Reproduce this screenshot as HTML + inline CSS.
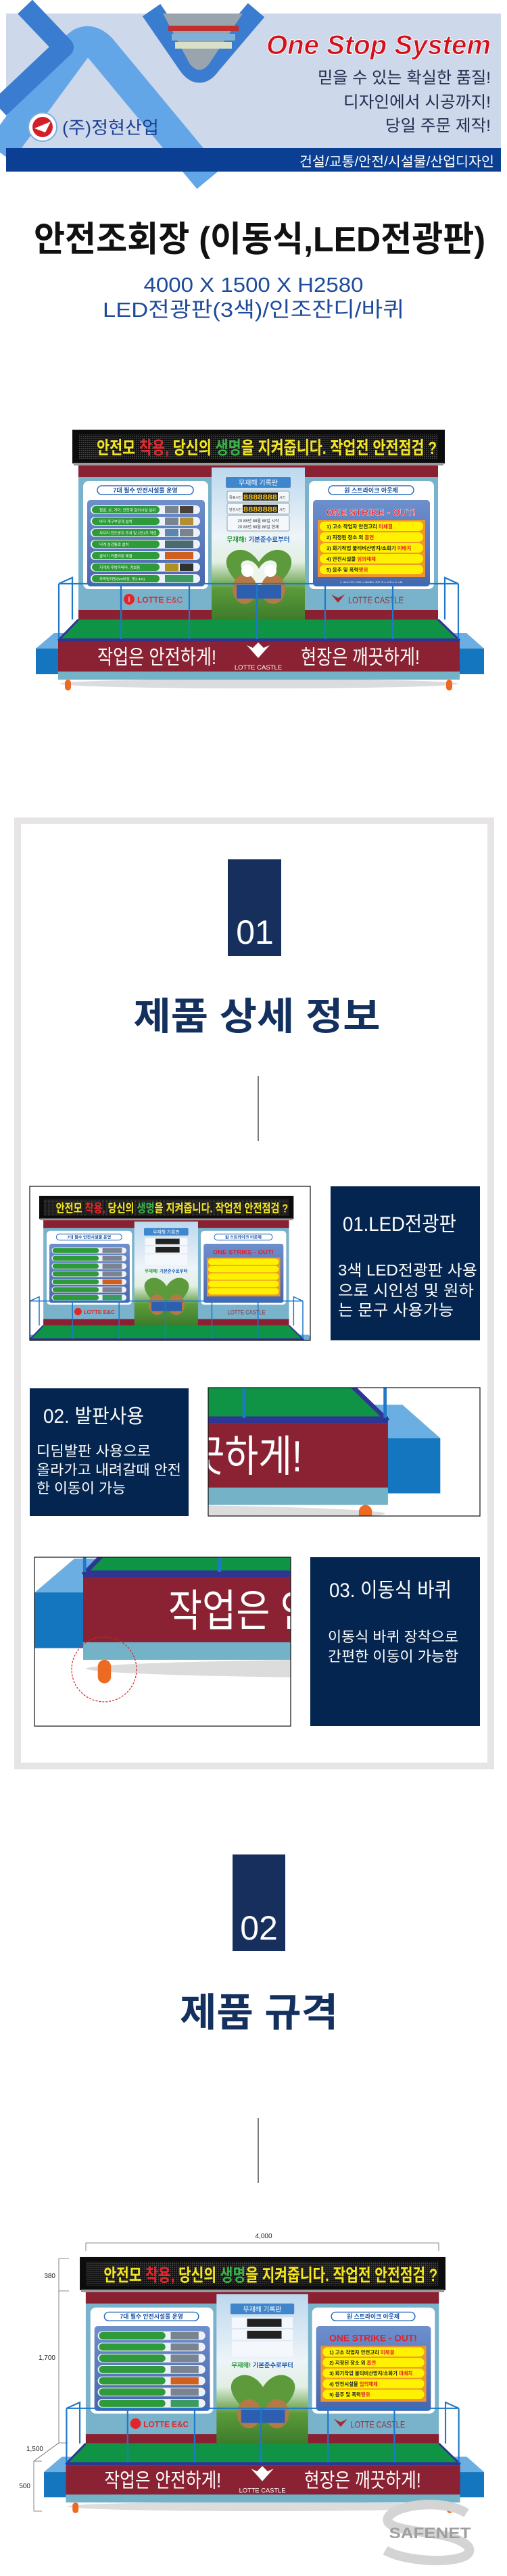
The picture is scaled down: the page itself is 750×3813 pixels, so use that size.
<!DOCTYPE html>
<html><head><meta charset="utf-8"><style>
html,body{margin:0;padding:0;background:#fff;width:750px;height:3813px;overflow:hidden}
svg{display:block}
text{font-family:"Liberation Sans","Noto Sans CJK KR",sans-serif}
</style></head><body>
<svg width="750" height="3813" viewBox="0 0 750 3813" xmlns="http://www.w3.org/2000/svg">
<defs>
<linearGradient id="cg" x1="0" y1="0" x2="0" y2="1"><stop offset="0" stop-color="#bcd8ee"/><stop offset=".45" stop-color="#eef4f8"/><stop offset=".62" stop-color="#e2efe2"/><stop offset=".8" stop-color="#5a9a3a"/><stop offset="1" stop-color="#3e7c2c"/></linearGradient>
<pattern id="dots" width="3" height="3" patternUnits="userSpaceOnUse"><rect width="3" height="3" fill="#111"/><rect width="1.6" height="1.6" fill="#4a4a4a"/></pattern>
<linearGradient id="bl" x1="0" y1="0" x2="0" y2="1"><stop offset="0" stop-color="#6d8fcc"/><stop offset="1" stop-color="#4766ac"/></linearGradient>
</defs>

<!-- HEADER -->
<g transform="translate(9,20)">
<rect width="732" height="234" fill="#cdd8ea"/>
<path d="M-10,205 L100,55 Q118,30 140,52 L300,245" stroke="#63a6e7" stroke-width="46" fill="none" stroke-linejoin="round"/>
<path d="M28,-10 L85,50 L-10,140" stroke="#3a7ccf" stroke-width="30" fill="none" stroke-linejoin="round"/>
<path d="M215,-5 L270,75 Q286,98 302,75 L370,-5" stroke="#3a7ccf" stroke-width="32" fill="none" stroke-linejoin="round"/>
<path d="M232,0 L350,0 L300,75 Q286,92 272,75 Z" fill="#9aa4ae"/>
<rect x="240" y="18" width="104" height="8" fill="#c03030"/>
<rect x="245" y="30" width="94" height="10" fill="#7fb0d8"/>
<rect x="250" y="42" width="84" height="10" fill="#d8e0c8"/>
<circle cx="54" cy="168" r="21" fill="#fff" stroke="#7aaee0" stroke-width="2"/>
<circle cx="54" cy="168" r="15" fill="#d21f2a"/>
<path d="M42,170 L66,160 L58,176 Z" fill="#fff"/>
<text x="83" y="178" font-size="26" fill="#1b3f94" textLength="143" lengthAdjust="spacingAndGlyphs">(주)정현산업</text>
<text x="717" y="60" font-size="40" font-weight="bold" font-style="italic" fill="#d4101a" stroke="#fff" stroke-width="1" text-anchor="end" textLength="332" lengthAdjust="spacingAndGlyphs">One Stop System</text>
<text x="717" y="103" font-size="24" fill="#222c4e" text-anchor="end" textLength="256" lengthAdjust="spacingAndGlyphs">믿을 수 있는 확실한 품질!</text>
<text x="717" y="139" font-size="24" fill="#222c4e" text-anchor="end" textLength="218" lengthAdjust="spacingAndGlyphs">디자인에서 시공까지!</text>
<text x="717" y="174" font-size="24" fill="#222c4e" text-anchor="end" textLength="156" lengthAdjust="spacingAndGlyphs">당일 주문 제작!</text>
<rect x="0" y="199" width="732" height="35" fill="#0a3f94"/>
<text x="722" y="226" font-size="20" fill="#fff" text-anchor="end" textLength="288" lengthAdjust="spacingAndGlyphs">건설/교통/안전/시설물/산업디자인</text>
</g>

<text x="384" y="372" font-size="52" font-weight="bold" fill="#111" text-anchor="middle" textLength="668" lengthAdjust="spacingAndGlyphs">안전조회장 (이동식,LED전광판)</text>
<text x="375" y="432" font-size="31" fill="#1d4b9c" text-anchor="middle" textLength="325" lengthAdjust="spacingAndGlyphs">4000 X 1500 X H2580</text>
<text x="375" y="469" font-size="31" fill="#1d4b9c" text-anchor="middle" textLength="446" lengthAdjust="spacingAndGlyphs">LED전광판(3색)/인조잔디/바퀴</text>

<!-- STAGE 1 -->
<svg x="0" y="560" width="750" height="560" viewBox="0 560 750 560">
<ellipse cx="383" cy="1012" rx="295" ry="7" fill="#dcdcdc"/>
<polygon points="80,937 690,937 716,960 53,960" fill="#6aaee2"/>
<rect x="53" y="960" width="663" height="38" fill="#1576c0"/>
<rect x="116" y="688" width="532" height="229" fill="#78b3cb"/>
<rect x="116" y="688" width="532" height="18" fill="#8a2133"/>
<rect x="116" y="903" width="532" height="14" fill="#8a2133"/>
<rect x="123" y="712" width="185" height="160" rx="8" fill="#fff"/>
<rect x="144" y="719" width="142" height="13" rx="6.5" fill="#fff" stroke="#2a6fc0" stroke-width="1.5"/>
<text x="215" y="729" font-size="9" font-weight="bold" text-anchor="middle" fill="#1b4fa0">7대 필수 안전시설물 운영</text>
<rect x="129" y="740" width="174" height="128" rx="5" fill="url(#bl)"/>
<g fill="#eef2f8"><rect x="134" y="748" width="162" height="13" rx="6.5"/><rect x="134" y="765" width="162" height="13" rx="6.5"/><rect x="134" y="782" width="162" height="13" rx="6.5"/><rect x="134" y="799" width="162" height="13" rx="6.5"/><rect x="134" y="816" width="162" height="13" rx="6.5"/><rect x="134" y="833" width="162" height="13" rx="6.5"/><rect x="134" y="850" width="162" height="13" rx="6.5"/></g>
<g fill="#2f9a3a"><rect x="136" y="749" width="100" height="11" rx="5.5"/><rect x="136" y="766" width="100" height="11" rx="5.5"/><rect x="136" y="783" width="100" height="11" rx="5.5"/><rect x="136" y="800" width="100" height="11" rx="5.5"/><rect x="136" y="817" width="100" height="11" rx="5.5"/><rect x="136" y="834" width="100" height="11" rx="5.5"/><rect x="136" y="851" width="100" height="11" rx="5.5"/></g>
<g fill="#7a8490"><rect x="244" y="749" width="20" height="11"/><rect x="266" y="749" width="20" height="11" fill="#4a4238"/><rect x="244" y="766" width="20" height="11"/><rect x="266" y="766" width="20" height="11" fill="#b09030"/><rect x="244" y="783" width="20" height="11" fill="#5a86b0"/><rect x="266" y="783" width="20" height="11"/><rect x="244" y="800" width="42" height="11" fill="#4a6a70"/><rect x="244" y="817" width="42" height="11" fill="#d06020"/><rect x="244" y="834" width="20" height="11" fill="#b09020"/><rect x="266" y="834" width="20" height="11" fill="#303030"/><rect x="244" y="851" width="42" height="11" fill="#3a9a60"/></g>
<g font-size="5.5" fill="#fff"><text x="147" y="757">철골, 보, 거더, 안전대 걸이시설 설치</text><text x="147" y="774">바닥 개구부덮개 설치</text><text x="147" y="791">사다리 전도방지 조치 및 2인1조 작업</text><text x="147" y="808">비계 승강통로 설치</text><text x="147" y="825">굴삭기 커플러핀 체결</text><text x="147" y="842">지게차 후방카메라, 경보음</text><text x="147" y="859">추락방지망(5m이상, 망2.4m)</text></g>
<rect x="313" y="692" width="138" height="225" fill="url(#cg)"/>
<path d="M383,885 C335,858 322,825 348,815 C364,810 377,822 383,832 C389,822 402,810 418,815 C444,825 431,858 383,885Z" fill="#5c9a3c"/>
<path d="M383,870 C358,852 350,834 362,830 C372,827 380,836 383,842 C386,836 394,827 404,830 C416,834 408,852 383,870Z" fill="#eef4f0"/>
<ellipse cx="362" cy="872" rx="18" ry="22" fill="#b47a45"/><ellipse cx="404" cy="872" rx="18" ry="22" fill="#b47a45"/>
<rect x="350" y="866" width="66" height="20" fill="#2d5fb0"/>
<circle cx="366" cy="845" r="9" fill="#fff"/><circle cx="400" cy="845" r="9" fill="#fff"/>
<rect x="334" y="706" width="96" height="16" rx="2" fill="#3f86cc"/>
<text x="382" y="718" font-size="10" fill="#fff" text-anchor="middle">무재해 기록판</text>
<rect x="336" y="727" width="92" height="16" rx="2" fill="#f4f7fb" stroke="#8aa"/><rect x="359" y="729" width="52" height="12" fill="#222"/>
<text x="385" y="739.5" font-size="11" fill="#f2c21b" text-anchor="middle" font-weight="bold" textLength="50" lengthAdjust="spacingAndGlyphs">8888888</text>
<text x="339" y="738" font-size="5" fill="#333">목표시간</text><text x="413" y="738" font-size="5" fill="#333">시간</text>
<rect x="336" y="745" width="92" height="16" rx="2" fill="#f4f7fb" stroke="#8aa"/><rect x="359" y="747" width="52" height="12" fill="#222"/>
<text x="385" y="757.5" font-size="11" fill="#f2c21b" text-anchor="middle" font-weight="bold" textLength="50" lengthAdjust="spacingAndGlyphs">8888888</text>
<text x="339" y="756" font-size="5" fill="#333">달성시간</text><text x="413" y="756" font-size="5" fill="#333">시간</text>
<rect x="336" y="763" width="92" height="23" rx="2" fill="#f4f7fb" stroke="#8aa"/>
<text x="382" y="773" font-size="6" text-anchor="middle" fill="#333">20 88년 88월 88일 시작</text><text x="382" y="782" font-size="6" text-anchor="middle" fill="#333">20 88년 88월 88일 현재</text>
<text x="382" y="802" font-size="9.5" font-weight="bold" text-anchor="middle" fill="#1f5fb5"><tspan fill="#2a9a3a">무재해!</tspan> 기본준수로부터</text>
<rect x="457" y="712" width="185" height="160" rx="8" fill="#fff"/>
<rect x="486" y="719" width="126" height="13" rx="6.5" fill="#fff" stroke="#2a6fc0" stroke-width="1.5"/>
<text x="549" y="729" font-size="9" font-weight="bold" text-anchor="middle" fill="#1b4fa0">원 스트라이크 아웃제</text>
<rect x="463" y="740" width="173" height="128" rx="5" fill="url(#bl)"/>
<text x="549" y="763" font-family="Liberation Serif" font-size="14" font-weight="bold" fill="#e3202a" text-anchor="middle" stroke="#fff" stroke-width=".4">ONE STRIKE - OUT!</text>
<rect x="470" y="770" width="159" height="84" fill="#f0962a"/>
<g fill="#fff200"><rect x="473" y="772" width="153" height="14" rx="7"/><rect x="473" y="788" width="153" height="14" rx="7"/><rect x="473" y="804" width="153" height="14" rx="7"/><rect x="473" y="820" width="153" height="14" rx="7"/><rect x="473" y="836" width="153" height="14" rx="7"/></g>
<g font-size="7.5" font-weight="bold" fill="#222"><text x="483" y="782">1) 고소 작업자 안전고리 <tspan fill="#e3202a">미체결</tspan></text><text x="483" y="798">2) 지정된 장소 외 <tspan fill="#e3202a">흡연</tspan></text><text x="483" y="814">3) 화기작업 불티비산방지/소화기 <tspan fill="#e3202a">미배치</tspan></text><text x="483" y="830">4) 안전시설물 <tspan fill="#e3202a">임의해체</tspan></text><text x="483" y="846">5) 음주 및 폭력<tspan fill="#e3202a">행위</tspan></text></g>
<text x="549" y="864" font-size="4" fill="#fff" text-anchor="middle">※ 위반근로자 적발시 위반횟수 불문 즉시 퇴출조치 시행</text>
<circle cx="191" cy="887" r="8" fill="#e0262b"/><text x="191" y="891" font-size="11" fill="#fff" text-anchor="middle">l</text>
<text x="203" y="892" font-size="12" font-weight="bold" fill="#e0262b">LOTTE <tspan font-weight="normal">E&amp;C</tspan></text>
<path d="M490,880 L500,892 L510,880 L500,885Z" fill="#a2282f"/>
<text x="515" y="893" font-size="14" fill="#8a3040" textLength="82" lengthAdjust="spacingAndGlyphs">LOTTE CASTLE</text>
<rect x="107" y="636" width="551" height="50" fill="#0c0c0c"/>
<rect x="109" y="685" width="547" height="4" fill="#9a9a9a"/>
<rect x="117" y="643" width="531" height="36" fill="url(#dots)"/>
<text x="143" y="672" font-size="26" font-weight="bold" fill="#f5e61e" textLength="503" lengthAdjust="spacingAndGlyphs">안전모 <tspan fill="#e8262b">착용,</tspan> 당신의 <tspan fill="#38b34a">생명</tspan>을 지켜줍니다. 작업전 안전점검 ?</text>
<polygon points="116,917 648,917 680,948 86,948" fill="#0f9446"/>
<path d="M86,948 L116,917 M680,948 L648,917" stroke="#2e3592" stroke-width="3"/>
<rect x="86" y="945" width="594" height="5" fill="#2e3592"/>
<path d="M87,864 H678 M87,864 V946 M179,864 V946 M280,864 V946 M380,864 V946 M481,864 V946 M581,864 V946 M678,864 V946 M87,864 L107,855 V917 M678,864 L658,855 V917" stroke="#1f78c8" stroke-width="2.2" fill="none"/>
<rect x="86" y="950" width="594" height="44" fill="#8a2233"/>
<text x="232" y="983" font-size="30" fill="#fff" text-anchor="middle" textLength="176" lengthAdjust="spacingAndGlyphs">작업은 안전하게!</text>
<text x="533" y="983" font-size="30" fill="#fff" text-anchor="middle" textLength="176" lengthAdjust="spacingAndGlyphs">현장은 깨끗하게!</text>
<path d="M382,974 L365,955 L374,959 L382,951 L390,959 L399,955 Z" fill="#fff"/>
<text x="382" y="991" font-size="9.5" fill="#fff" text-anchor="middle">LOTTE CASTLE</text>
<rect x="86" y="994" width="594" height="12" fill="#74b2c8"/>
<rect x="96" y="1006" width="9" height="16" rx="4.5" fill="#ec6a22"/><rect x="660" y="1006" width="9" height="16" rx="4.5" fill="#ec6a22"/>
</svg>

<!-- SECTION 01 FRAME -->
<rect x="26" y="1215" width="700" height="1399" fill="none" stroke="#e6e4e5" stroke-width="10"/>
<rect x="337" y="1272" width="79" height="143" fill="#172f5c"/>
<text x="377" y="1397" font-size="50" fill="#fff" text-anchor="middle">01</text>
<text x="380" y="1524" font-size="56" font-weight="bold" fill="#13305e" text-anchor="middle" textLength="365" lengthAdjust="spacingAndGlyphs">제품 상세 정보</text>
<line x1="382" y1="1593" x2="382" y2="1689" stroke="#222" stroke-width="1.2"/>

<!-- crop 1 -->
<svg x="44" y="1756" width="415" height="228" viewBox="86.5 615.5 607.6 333.8" preserveAspectRatio="none">
<polygon points="80,937 690,937 716,960 53,960" fill="#6aaee2"/>
<rect x="116" y="688" width="532" height="229" fill="#78b3cb"/>
<rect x="116" y="688" width="532" height="18" fill="#8a2133"/>
<rect x="116" y="903" width="532" height="14" fill="#8a2133"/>
<rect x="123" y="712" width="185" height="160" rx="8" fill="#fff"/>
<rect x="144" y="719" width="142" height="13" rx="6.5" fill="#fff" stroke="#2a6fc0" stroke-width="1.5"/>
<text x="215" y="729" font-size="9" font-weight="bold" text-anchor="middle" fill="#1b4fa0">7대 필수 안전시설물 운영</text>
<rect x="129" y="740" width="174" height="128" rx="5" fill="url(#bl)"/>
<g fill="#eef2f8"><rect x="134" y="748" width="162" height="13" rx="6.5"/><rect x="134" y="765" width="162" height="13" rx="6.5"/><rect x="134" y="782" width="162" height="13" rx="6.5"/><rect x="134" y="799" width="162" height="13" rx="6.5"/><rect x="134" y="816" width="162" height="13" rx="6.5"/><rect x="134" y="833" width="162" height="13" rx="6.5"/><rect x="134" y="850" width="162" height="13" rx="6.5"/></g>
<g fill="#2f9a3a"><rect x="136" y="749" width="100" height="11" rx="5.5"/><rect x="136" y="766" width="100" height="11" rx="5.5"/><rect x="136" y="783" width="100" height="11" rx="5.5"/><rect x="136" y="800" width="100" height="11" rx="5.5"/><rect x="136" y="817" width="100" height="11" rx="5.5"/><rect x="136" y="834" width="100" height="11" rx="5.5"/><rect x="136" y="851" width="100" height="11" rx="5.5"/></g>
<g fill="#7a8490"><rect x="244" y="749" width="42" height="11"/><rect x="244" y="766" width="42" height="11"/><rect x="244" y="783" width="42" height="11"/><rect x="244" y="800" width="42" height="11"/><rect x="244" y="817" width="42" height="11" fill="#d06020"/><rect x="244" y="834" width="42" height="11"/><rect x="244" y="851" width="42" height="11" fill="#3a9a60"/></g>
<rect x="313" y="692" width="138" height="225" fill="url(#cg)"/>
<path d="M383,885 C335,858 322,825 348,815 C364,810 377,822 383,832 C389,822 402,810 418,815 C444,825 431,858 383,885Z" fill="#5c9a3c"/>
<ellipse cx="362" cy="872" rx="18" ry="22" fill="#b47a45"/><ellipse cx="404" cy="872" rx="18" ry="22" fill="#b47a45"/>
<rect x="350" y="866" width="66" height="20" fill="#2d5fb0"/>
<rect x="334" y="706" width="96" height="16" rx="2" fill="#3f86cc"/>
<text x="382" y="718" font-size="10" fill="#fff" text-anchor="middle">무재해 기록판</text>
<rect x="336" y="727" width="92" height="16" fill="#f4f7fb"/><rect x="359" y="729" width="52" height="12" fill="#222"/>
<rect x="336" y="745" width="92" height="16" fill="#f4f7fb"/><rect x="359" y="747" width="52" height="12" fill="#222"/>
<rect x="336" y="763" width="92" height="23" fill="#f4f7fb"/>
<text x="382" y="802" font-size="9.5" font-weight="bold" text-anchor="middle" fill="#1f5fb5"><tspan fill="#2a9a3a">무재해!</tspan> 기본준수로부터</text>
<rect x="457" y="712" width="185" height="160" rx="8" fill="#fff"/>
<rect x="486" y="719" width="126" height="13" rx="6.5" fill="#fff" stroke="#2a6fc0" stroke-width="1.5"/>
<text x="549" y="729" font-size="9" font-weight="bold" text-anchor="middle" fill="#1b4fa0">원 스트라이크 아웃제</text>
<rect x="463" y="740" width="173" height="128" rx="5" fill="url(#bl)"/>
<text x="549" y="763" font-family="Liberation Serif" font-size="14" font-weight="bold" fill="#e3202a" text-anchor="middle">ONE STRIKE - OUT!</text>
<rect x="470" y="770" width="159" height="84" fill="#f0962a"/>
<g fill="#fff200"><rect x="473" y="772" width="153" height="14" rx="7"/><rect x="473" y="788" width="153" height="14" rx="7"/><rect x="473" y="804" width="153" height="14" rx="7"/><rect x="473" y="820" width="153" height="14" rx="7"/><rect x="473" y="836" width="153" height="14" rx="7"/></g>
<circle cx="191" cy="887" r="8" fill="#e0262b"/>
<text x="203" y="892" font-size="12" font-weight="bold" fill="#e0262b">LOTTE E&amp;C</text>
<text x="515" y="893" font-size="14" fill="#8a3040" textLength="82" lengthAdjust="spacingAndGlyphs">LOTTE CASTLE</text>
<rect x="107" y="636" width="551" height="50" fill="#0c0c0c"/>
<rect x="109" y="685" width="547" height="4" fill="#9a9a9a"/>
<rect x="117" y="643" width="531" height="36" fill="url(#dots)"/>
<text x="143" y="672" font-size="26" font-weight="bold" fill="#f5e61e" textLength="503" lengthAdjust="spacingAndGlyphs">안전모 <tspan fill="#e8262b">착용,</tspan> 당신의 <tspan fill="#38b34a">생명</tspan>을 지켜줍니다. 작업전 안전점검 ?</text>
<polygon points="116,917 648,917 680,948 86,948" fill="#0f9446"/>
<path d="M86,948 L116,917 M680,948 L648,917" stroke="#2e3592" stroke-width="3"/>
<rect x="86" y="945" width="594" height="5" fill="#2e3592"/>
<path d="M87,864 H678 M87,864 V946 M179,864 V946 M280,864 V946 M380,864 V946 M481,864 V946 M581,864 V946 M678,864 V946 M87,864 L107,855 V917 M678,864 L658,855 V917" stroke="#1f78c8" stroke-width="2.2" fill="none"/>
</svg>
<rect x="44" y="1756" width="415" height="228" fill="none" stroke="#111" stroke-width="1.2"/>
<rect x="489" y="1756" width="221" height="228" fill="#03254f"/>
<text x="507" y="1822" font-size="30" fill="#fff" textLength="168" lengthAdjust="spacingAndGlyphs">01.LED전광판</text>
<text x="500" y="1888" font-size="23" fill="#fff" textLength="206" lengthAdjust="spacingAndGlyphs">3색 LED전광판 사용</text>
<text x="500" y="1918" font-size="23" fill="#fff" textLength="201" lengthAdjust="spacingAndGlyphs">으로 시인성 및 원하</text>
<text x="500" y="1947" font-size="23" fill="#fff" textLength="171" lengthAdjust="spacingAndGlyphs">는 문구 사용가능</text>

<rect x="44" y="2055" width="235" height="189" fill="#03254f"/>
<text x="64" y="2106" font-size="29" fill="#fff" textLength="149" lengthAdjust="spacingAndGlyphs">02. 발판사용</text>
<text x="54" y="2155" font-size="21" fill="#fff" textLength="169" lengthAdjust="spacingAndGlyphs">디딤발판 사용으로</text>
<text x="54" y="2183" font-size="21" fill="#fff" textLength="214" lengthAdjust="spacingAndGlyphs">올라가고 내려갈때 안전</text>
<text x="54" y="2210" font-size="21" fill="#fff" textLength="132" lengthAdjust="spacingAndGlyphs">한 이동이 가능</text>

<!-- crop 2 -->
<svg x="308" y="2054" width="402" height="190" viewBox="556.3 925.2 187 88.4" preserveAspectRatio="none">
<ellipse cx="383" cy="1012" rx="295" ry="7" fill="#dcdcdc"/>
<polygon points="80,937 690,937 716,960 53,960" fill="#6aaee2"/>
<rect x="53" y="960" width="663" height="38" fill="#1576c0"/>
<rect x="116" y="903" width="532" height="14" fill="#8a2133"/>
<polygon points="116,917 648,917 680,948 86,948" fill="#0f9446"/>
<path d="M86,948 L116,917 M680,948 L648,917" stroke="#2e3592" stroke-width="3"/>
<rect x="86" y="945" width="594" height="5" fill="#2e3592"/>
<path d="M87,864 H678 M581,864 V946 M678,864 V946 M678,864 L658,855 V917" stroke="#1f78c8" stroke-width="2.2" fill="none"/>
<rect x="86" y="950" width="594" height="44" fill="#8a2233"/>
<text x="533" y="983" font-size="30" fill="#fff" text-anchor="middle" textLength="176" lengthAdjust="spacingAndGlyphs">현장은 깨끗하게!</text>
<rect x="86" y="994" width="594" height="12" fill="#74b2c8"/>
<rect x="660" y="1006" width="9" height="16" rx="4.5" fill="#ec6a22"/>
</svg>
<rect x="308" y="2054" width="402" height="190" fill="none" stroke="#111" stroke-width="1.2"/>

<!-- crop 3 -->
<svg x="51" y="2305" width="379" height="250" viewBox="52.8 936 174.7 115.2" preserveAspectRatio="none">
<ellipse cx="383" cy="1012" rx="295" ry="7" fill="#dcdcdc"/>
<polygon points="80,937 690,937 716,960 53,960" fill="#6aaee2"/>
<rect x="53" y="960" width="663" height="38" fill="#1576c0"/>
<polygon points="116,917 648,917 680,948 86,948" fill="#0f9446"/>
<path d="M86,948 L116,917" stroke="#2e3592" stroke-width="3"/>
<rect x="86" y="945" width="594" height="5" fill="#2e3592"/>
<path d="M87,864 V946 M179,864 V946 M87,864 L107,855 V917" stroke="#1f78c8" stroke-width="2.2" fill="none"/>
<rect x="86" y="950" width="594" height="44" fill="#8a2233"/>
<text x="232" y="983" font-size="30" fill="#fff" text-anchor="middle" textLength="176" lengthAdjust="spacingAndGlyphs">작업은 안전하게!</text>
<rect x="86" y="994" width="594" height="12" fill="#74b2c8"/>
<rect x="96" y="1006" width="9" height="16" rx="4.5" fill="#ec6a22"/>
</svg>
<rect x="51" y="2305" width="379" height="250" fill="none" stroke="#111" stroke-width="1.2"/>
<circle cx="154" cy="2471" r="48" fill="none" stroke="#e02020" stroke-width="1.2" stroke-dasharray="3 2"/>
<rect x="459" y="2305" width="251" height="250" fill="#03254f"/>
<text x="487" y="2364" font-size="30" fill="#fff" textLength="181" lengthAdjust="spacingAndGlyphs">03. 이동식 바퀴</text>
<text x="485" y="2430" font-size="21" fill="#fff" textLength="193" lengthAdjust="spacingAndGlyphs">이동식 바퀴 장착으로</text>
<text x="485" y="2459" font-size="21" fill="#fff" textLength="193" lengthAdjust="spacingAndGlyphs">간편한 이동이 가능함</text>

<!-- SECTION 02 -->
<rect x="344" y="2745" width="78" height="143" fill="#172f5c"/>
<text x="383" y="2871" font-size="50" fill="#fff" text-anchor="middle">02</text>
<text x="383" y="2999" font-size="58" font-weight="bold" fill="#13305e" text-anchor="middle" textLength="234" lengthAdjust="spacingAndGlyphs">제품 규격</text>
<line x1="382" y1="3135" x2="382" y2="3231" stroke="#222" stroke-width="1.2"/>

<!-- dimensions -->
<g stroke="#666" stroke-width="0.8" fill="none">
<path d="M127,3332 V3320 H649 V3332"/>
<path d="M102,3343 H87 V3616 L50,3643 V3717 H62 M87,3391 H102 M87,3616 H100 M50,3643 H62"/>
</g>
<g font-size="10" fill="#222" font-family="Liberation Sans">
<text x="390" y="3313" text-anchor="middle">4,000</text>
<text x="82" y="3372" text-anchor="end">380</text>
<text x="82" y="3493" text-anchor="end">1,700</text>
<text x="64" y="3628" text-anchor="end">1,500</text>
<text x="45" y="3683" text-anchor="end">500</text>
</g>

<!-- STAGE spec -->
<svg x="52.2" y="3305.6" width="677.6" height="432" viewBox="40 600 690 440">
<ellipse cx="383" cy="1012" rx="295" ry="7" fill="#dcdcdc"/>
<polygon points="80,937 690,937 716,960 53,960" fill="#6aaee2"/>
<rect x="53" y="960" width="663" height="38" fill="#1576c0"/>
<rect x="116" y="688" width="532" height="229" fill="#78b3cb"/>
<rect x="116" y="688" width="532" height="18" fill="#8a2133"/>
<rect x="116" y="903" width="532" height="14" fill="#8a2133"/>
<rect x="123" y="712" width="185" height="160" rx="8" fill="#fff"/>
<rect x="144" y="719" width="142" height="13" rx="6.5" fill="#fff" stroke="#2a6fc0" stroke-width="1.5"/>
<text x="215" y="729" font-size="9" font-weight="bold" text-anchor="middle" fill="#1b4fa0">7대 필수 안전시설물 운영</text>
<rect x="129" y="740" width="174" height="128" rx="5" fill="url(#bl)"/>
<g fill="#eef2f8"><rect x="134" y="748" width="162" height="13" rx="6.5"/><rect x="134" y="765" width="162" height="13" rx="6.5"/><rect x="134" y="782" width="162" height="13" rx="6.5"/><rect x="134" y="799" width="162" height="13" rx="6.5"/><rect x="134" y="816" width="162" height="13" rx="6.5"/><rect x="134" y="833" width="162" height="13" rx="6.5"/><rect x="134" y="850" width="162" height="13" rx="6.5"/></g>
<g fill="#2f9a3a"><rect x="136" y="749" width="100" height="11" rx="5.5"/><rect x="136" y="766" width="100" height="11" rx="5.5"/><rect x="136" y="783" width="100" height="11" rx="5.5"/><rect x="136" y="800" width="100" height="11" rx="5.5"/><rect x="136" y="817" width="100" height="11" rx="5.5"/><rect x="136" y="834" width="100" height="11" rx="5.5"/><rect x="136" y="851" width="100" height="11" rx="5.5"/></g>
<g fill="#7a8490"><rect x="244" y="749" width="42" height="11"/><rect x="244" y="766" width="42" height="11"/><rect x="244" y="783" width="42" height="11"/><rect x="244" y="800" width="42" height="11"/><rect x="244" y="817" width="42" height="11" fill="#d06020"/><rect x="244" y="834" width="42" height="11"/><rect x="244" y="851" width="42" height="11" fill="#3a9a60"/></g>
<rect x="313" y="692" width="138" height="225" fill="url(#cg)"/>
<path d="M383,885 C335,858 322,825 348,815 C364,810 377,822 383,832 C389,822 402,810 418,815 C444,825 431,858 383,885Z" fill="#5c9a3c"/>
<ellipse cx="362" cy="872" rx="18" ry="22" fill="#b47a45"/><ellipse cx="404" cy="872" rx="18" ry="22" fill="#b47a45"/>
<rect x="350" y="866" width="66" height="20" fill="#2d5fb0"/>
<rect x="334" y="706" width="96" height="16" rx="2" fill="#3f86cc"/>
<text x="382" y="718" font-size="10" fill="#fff" text-anchor="middle">무재해 기록판</text>
<rect x="336" y="727" width="92" height="16" fill="#f4f7fb"/><rect x="359" y="729" width="52" height="12" fill="#222"/>
<rect x="336" y="745" width="92" height="16" fill="#f4f7fb"/><rect x="359" y="747" width="52" height="12" fill="#222"/>
<rect x="336" y="763" width="92" height="23" fill="#f4f7fb"/>
<text x="382" y="802" font-size="9.5" font-weight="bold" text-anchor="middle" fill="#1f5fb5"><tspan fill="#2a9a3a">무재해!</tspan> 기본준수로부터</text>
<rect x="457" y="712" width="185" height="160" rx="8" fill="#fff"/>
<rect x="486" y="719" width="126" height="13" rx="6.5" fill="#fff" stroke="#2a6fc0" stroke-width="1.5"/>
<text x="549" y="729" font-size="9" font-weight="bold" text-anchor="middle" fill="#1b4fa0">원 스트라이크 아웃제</text>
<rect x="463" y="740" width="173" height="128" rx="5" fill="url(#bl)"/>
<text x="549" y="763" font-family="Liberation Serif" font-size="14" font-weight="bold" fill="#e3202a" text-anchor="middle">ONE STRIKE - OUT!</text>
<rect x="470" y="770" width="159" height="84" fill="#f0962a"/>
<g fill="#fff200"><rect x="473" y="772" width="153" height="14" rx="7"/><rect x="473" y="788" width="153" height="14" rx="7"/><rect x="473" y="804" width="153" height="14" rx="7"/><rect x="473" y="820" width="153" height="14" rx="7"/><rect x="473" y="836" width="153" height="14" rx="7"/></g>
<g font-size="7.5" font-weight="bold" fill="#222"><text x="483" y="782">1) 고소 작업자 안전고리 <tspan fill="#e3202a">미체결</tspan></text><text x="483" y="798">2) 지정된 장소 외 <tspan fill="#e3202a">흡연</tspan></text><text x="483" y="814">3) 화기작업 불티비산방지/소화기 <tspan fill="#e3202a">미배치</tspan></text><text x="483" y="830">4) 안전시설물 <tspan fill="#e3202a">임의해체</tspan></text><text x="483" y="846">5) 음주 및 폭력<tspan fill="#e3202a">행위</tspan></text></g>
<circle cx="191" cy="887" r="8" fill="#e0262b"/>
<text x="203" y="892" font-size="12" font-weight="bold" fill="#e0262b">LOTTE E&amp;C</text>
<path d="M490,880 L500,892 L510,880 L500,885Z" fill="#a2282f"/>
<text x="515" y="893" font-size="14" fill="#8a3040" textLength="82" lengthAdjust="spacingAndGlyphs">LOTTE CASTLE</text>
<rect x="107" y="636" width="551" height="50" fill="#0c0c0c"/>
<rect x="109" y="685" width="547" height="4" fill="#9a9a9a"/>
<rect x="117" y="643" width="531" height="36" fill="url(#dots)"/>
<text x="143" y="672" font-size="26" font-weight="bold" fill="#f5e61e" textLength="503" lengthAdjust="spacingAndGlyphs">안전모 <tspan fill="#e8262b">착용,</tspan> 당신의 <tspan fill="#38b34a">생명</tspan>을 지켜줍니다. 작업전 안전점검 ?</text>
<polygon points="116,917 648,917 680,948 86,948" fill="#0f9446"/>
<path d="M86,948 L116,917 M680,948 L648,917" stroke="#2e3592" stroke-width="3"/>
<rect x="86" y="945" width="594" height="5" fill="#2e3592"/>
<path d="M87,864 H678 M87,864 V946 M179,864 V946 M280,864 V946 M380,864 V946 M481,864 V946 M581,864 V946 M678,864 V946 M87,864 L107,855 V917 M678,864 L658,855 V917" stroke="#1f78c8" stroke-width="2.2" fill="none"/>
<rect x="86" y="950" width="594" height="44" fill="#8a2233"/>
<text x="232" y="983" font-size="30" fill="#fff" text-anchor="middle" textLength="176" lengthAdjust="spacingAndGlyphs">작업은 안전하게!</text>
<text x="533" y="983" font-size="30" fill="#fff" text-anchor="middle" textLength="176" lengthAdjust="spacingAndGlyphs">현장은 깨끗하게!</text>
<path d="M382,974 L365,955 L374,959 L382,951 L390,959 L399,955 Z" fill="#fff"/>
<text x="382" y="991" font-size="9.5" fill="#fff" text-anchor="middle">LOTTE CASTLE</text>
<rect x="86" y="994" width="594" height="12" fill="#74b2c8"/>
<rect x="96" y="1006" width="9" height="16" rx="4.5" fill="#ec6a22"/><rect x="660" y="1006" width="9" height="16" rx="4.5" fill="#ec6a22"/>
</svg>

<!-- SAFENET logo -->
<path d="M690,3720 C660,3700 590,3705 575,3725 C565,3740 600,3745 640,3750 C680,3756 705,3770 690,3782 C670,3795 600,3792 570,3775" stroke="#d4d4d4" stroke-width="14" fill="none"/>
<text x="636" y="3757" font-size="22" font-weight="bold" fill="#9e9e9e" text-anchor="middle" textLength="121" lengthAdjust="spacingAndGlyphs">SAFENET</text>
</svg>
</body></html>
